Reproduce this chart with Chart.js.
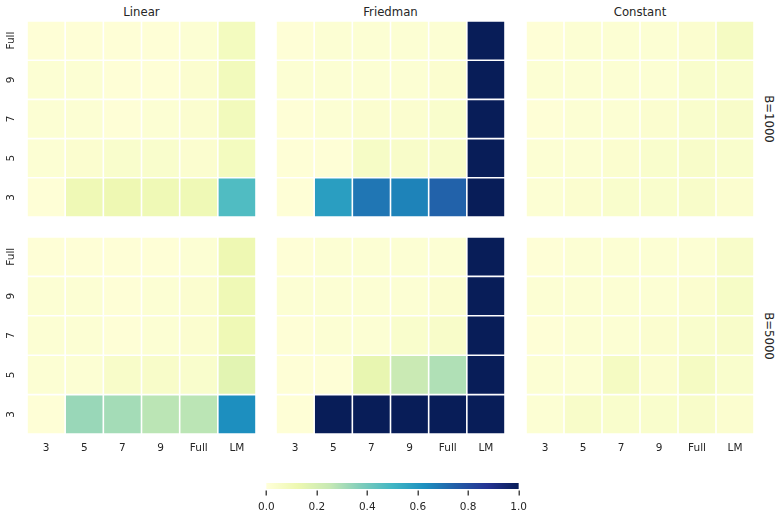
<!DOCTYPE html>
<html><head><meta charset="utf-8">
<script src="https://cdn.jsdelivr.net/npm/chart.js@4.4.0/dist/chart.umd.min.js"></script>
<style>
body{margin:0;background:#fff;width:778px;height:517px;position:relative;overflow:hidden;font-family:"DejaVu Sans",sans-serif;color:#262626}
canvas{position:absolute}
.t{position:absolute;font-size:11.7px;white-space:nowrap;transform:translate(-50%,-50%)}
.r{position:absolute;font-size:11.7px;white-space:nowrap;transform:translate(-50%,-50%) rotate(90deg)}
</style></head><body>
<script>
// ---------- data ----------
const xLabels = ['3','5','7','9','Full','LM'];
const yLabels = ['3','5','7','9','Full'];        // bottom -> top
const colTitles = ['Linear','Friedman','Constant'];
const rowTitles = ['B=1000','B=5000'];
const cbarTicks = [0,0.2,0.4,0.6,0.8,1.0];

// each panel: rows listed bottom (3) to top (Full), columns 3,5,7,9,Full,LM
const linearB1000 = [
  [0.01,0.11,0.12,0.11,0.11,0.47],
  [0.02,0.03,0.04,0.04,0.03,0.08],
  [0.02,0.02,0.01,0.02,0.03,0.09],
  [0.02,0.02,0.01,0.01,0.03,0.09],
  [0.01,0.01,0.01,0.01,0.02,0.08]
];
const friedmanB1000 = [
  [0.01,0.58,0.69,0.66,0.74,1.00],
  [0.01,0.01,0.06,0.05,0.05,1.00],
  [0.01,0.02,0.03,0.03,0.04,1.00],
  [0.02,0.02,0.02,0.02,0.03,1.00],
  [0.01,0.02,0.02,0.02,0.02,1.00]
];
const constantB1000 = [
  [0.02,0.03,0.04,0.04,0.05,0.03],
  [0.02,0.02,0.03,0.04,0.05,0.04],
  [0.01,0.02,0.02,0.03,0.04,0.05],
  [0.02,0.02,0.02,0.02,0.04,0.04],
  [0.01,0.02,0.02,0.02,0.03,0.07]
];
const linearB5000 = [
  [0.01,0.33,0.31,0.27,0.27,0.63],
  [0.02,0.02,0.05,0.05,0.04,0.16],
  [0.02,0.02,0.01,0.02,0.03,0.11],
  [0.02,0.02,0.01,0.02,0.03,0.11],
  [0.01,0.01,0.01,0.01,0.02,0.12]
];
const friedmanB5000 = [
  [0.01,1.00,1.00,1.00,1.00,1.00],
  [0.01,0.01,0.14,0.24,0.29,1.00],
  [0.01,0.02,0.02,0.04,0.05,1.00],
  [0.02,0.02,0.02,0.02,0.03,1.00],
  [0.01,0.02,0.02,0.02,0.02,1.00]
];
const constantB5000 = [
  [0.02,0.05,0.04,0.04,0.05,0.03],
  [0.02,0.02,0.07,0.03,0.07,0.04],
  [0.01,0.02,0.02,0.03,0.04,0.05],
  [0.02,0.02,0.02,0.02,0.03,0.06],
  [0.01,0.02,0.02,0.02,0.02,0.05]
];
const panels = [
  [linearB1000, friedmanB1000, constantB1000],
  [linearB5000, friedmanB5000, constantB5000]
];

// ---------- colormap (YlGnBu) ----------
const CMAP = [[255,255,217],[237,248,177],[199,233,180],[127,205,187],[65,182,196],[29,145,192],[34,94,168],[37,52,148],[8,29,88]];
function cmap(v){
  v = Math.max(0, Math.min(1, v));
  const p = v*(CMAP.length-1), i = Math.min(Math.floor(p), CMAP.length-2), f = p-i;
  const c = CMAP[i].map((a,k)=>Math.round(a+(CMAP[i+1][k]-a)*f));
  return `rgb(${c[0]},${c[1]},${c[2]})`;
}

// ---------- layout ----------
const TXT = '#262626';
const FONT = 'DejaVu Sans';
const colX = [[0,256,27],[276,229,0],[526,228,0]]; // canvas left, width, padLeft
const rowY = [[21,196],[237,197]];                 // plot top, plot height
const XAXIS_H = 26;

const yLabPlugin = {
  id:'ylab',
  afterDraw(chart, args, opts){
    if(!opts.show) return;
    const {ctx, chartArea, scales:{y}} = chart;
    ctx.save();
    ctx.font = `10.5px "${FONT}"`;
    ctx.fillStyle = TXT;
    ctx.textAlign = 'center';
    ctx.textBaseline = 'middle';
    yLabels.forEach((lab,i)=>{
      const py = y.getPixelForValue(i+0.5);
      ctx.save();
      ctx.translate(chartArea.left-15.5, py);
      ctx.rotate(-Math.PI/2);
      ctx.fillText(lab,0,0);
      ctx.restore();
    });
    ctx.restore();
  }
};

function addCanvas(left, top, w, h){
  const c = document.createElement('canvas');
  c.width = w; c.height = h;
  c.style.left = left+'px'; c.style.top = top+'px';
  c.style.width = w+'px'; c.style.height = h+'px';
  document.body.appendChild(c);
  return c;
}
function addText(cls, txt, x, y){
  const d = document.createElement('div');
  d.className = cls; d.textContent = txt;
  d.style.left = x+'px'; d.style.top = y+'px';
  document.body.appendChild(d);
}

panels.forEach((row, ri)=>{
  row.forEach((M, ci)=>{
    const [left, w, padL] = colX[ci];
    const [top, ph] = rowY[ri];
    const bottom = ri === panels.length-1;
    const h = ph + (bottom ? XAXIS_H : 0);
    const cv = addCanvas(left, top, w, h);
    new Chart(cv, {
      type:'bar',
      plugins:[yLabPlugin],
      data:{
        labels:xLabels,
        datasets:M.map((r)=>({
          data:r.map(()=>1),
          backgroundColor:r.map(cmap),
          borderColor:'#ffffff',
          borderWidth:0.8,
          borderSkipped:false,
          inflateAmount:0,
          barPercentage:1,
          categoryPercentage:1,
          stack:'s'
        }))
      },
      options:{
        responsive:false, animation:false, devicePixelRatio:1,
        layout:{padding:{left:padL, right:0, top:0, bottom:0}},
        plugins:{legend:{display:false}, tooltip:{enabled:false}, ylab:{show: ci===0}},
        scales:{
          x:{type:'category', stacked:true, display:bottom,
             grid:{display:false, drawTicks:false}, border:{display:false},
             ticks:{color:TXT, font:{size:10.5, family:FONT}, padding:8, maxRotation:0, minRotation:0},
             afterFit(s){ s.height = bottom ? XAXIS_H : 0; }},
          y:{stacked:true, min:0, max:5, display:false}
        }
      }
    });
  });
});

colTitles.forEach((t,ci)=>{
  const [left, w, padL] = colX[ci];
  addText('t', t, left+padL+(w-padL)/2, 11.5);
});
rowTitles.forEach((t,ri)=>{
  const [top, ph] = rowY[ri];
  addText('r', t, 768.5, top+ph/2);
});

// ---------- colorbar ----------
const cbPlugin = {
  id:'cbar',
  beforeDatasetsDraw(chart){
    const {ctx, chartArea, scales:{x}} = chart;
    const x0 = x.getPixelForValue(0), x1 = x.getPixelForValue(1);
    const g = ctx.createLinearGradient(x0,0,x1,0);
    CMAP.forEach((c,i)=>g.addColorStop(i/(CMAP.length-1), `rgb(${c[0]},${c[1]},${c[2]})`));
    ctx.save();
    ctx.fillStyle = g;
    ctx.fillRect(x0, chartArea.top, x1-x0, chartArea.bottom-chartArea.top);
    ctx.restore();
  },
  afterDraw(chart){
    const {ctx, chartArea, scales:{x}} = chart;
    ctx.save();
    ctx.fillStyle = '#4a4a4a';
    cbarTicks.forEach(v=>{
      const px = Math.round(x.getPixelForValue(v));
      ctx.fillRect(px-0.5, chartArea.bottom + 1.5, 1.5, 5);
    });
    ctx.restore();
  }
};
const cbCanvas = addCanvas(246, 483, 293, 34);
new Chart(cbCanvas, {
  type:'scatter',
  plugins:[cbPlugin],
  data:{datasets:[{data:[]}]},
  options:{
    responsive:false, animation:false, devicePixelRatio:1,
    layout:{padding:{left:20,right:20,top:0,bottom:0}},
    plugins:{legend:{display:false}, tooltip:{enabled:false}},
    scales:{
      x:{type:'linear', min:0, max:1,
         afterBuildTicks(s){ s.ticks = cbarTicks.map(v=>({value:v})); },
         grid:{display:false, drawTicks:false},
         border:{display:false},
         ticks:{color:TXT, font:{size:10.5, family:FONT}, padding:12, callback:v=>Number(v).toFixed(1)},
         afterFit(s){ s.height = 28; }},
      y:{display:false, min:0, max:1}
    }
  }
});
</script>
</body></html>
